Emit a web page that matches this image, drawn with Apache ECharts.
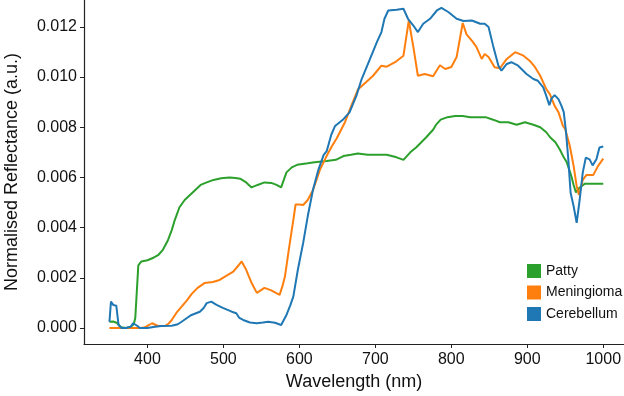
<!DOCTYPE html>
<html>
<head>
<meta charset="utf-8">
<script src="https://cdn.jsdelivr.net/npm/echarts@6/dist/echarts.min.js"></script>
<style>
html, body { margin: 0; padding: 0; background: #fff; }
#chart { width: 624px; height: 396px; }
</style>
</head>
<body>
<div id="chart"></div>
<script>
// tick labels
var xTicks = [400, 500, 600, 700, 800, 900, 1000];
var yTicks = [0, 0.002, 0.004, 0.006, 0.008, 0.010, 0.012];
var seriesNames = ['Patty', 'Meningioma', 'Cerebellum'];

// Patty
var pattyWl = [350, 355, 360, 365, 372, 378, 382, 384, 388, 392, 400, 408, 414, 420, 427, 432, 436, 442, 449, 456, 463, 470, 478, 487, 497, 508, 516, 522, 530, 537, 545, 554, 563, 570, 576, 583, 590, 597, 611, 620, 636, 648, 658, 668, 677, 690, 700, 715, 728, 737, 746, 754, 767, 776, 780, 786, 795, 805, 815, 825, 835, 845, 855, 864, 875, 886, 897, 908, 917, 925, 930, 937, 943, 948, 952, 958, 961, 964, 969, 976, 1000];
var pattyVal = [0.00025, 0.00026, 0.0002, 0.00003, 0.0, 0.00005, 0.00015, 0.0004, 0.0025, 0.00265, 0.0027, 0.0028, 0.0029, 0.0031, 0.0035, 0.0039, 0.0043, 0.0048, 0.0051, 0.0053, 0.0055, 0.0057, 0.0058, 0.0059, 0.00597, 0.006, 0.00598, 0.00595, 0.0058, 0.0056, 0.0057, 0.0058, 0.00578, 0.0057, 0.0056, 0.0062, 0.0064, 0.0065, 0.00656, 0.0066, 0.00665, 0.0067, 0.00685, 0.0069, 0.00695, 0.0069, 0.0069, 0.0069, 0.0068, 0.0067, 0.007, 0.0072, 0.0076, 0.0079, 0.0081, 0.0083, 0.0084, 0.00845, 0.00845, 0.0084, 0.0084, 0.0084, 0.0083, 0.0082, 0.0082, 0.0081, 0.0082, 0.0081, 0.008, 0.0078, 0.0076, 0.0074, 0.0071, 0.0068, 0.0066, 0.00605, 0.0057, 0.0054, 0.0056, 0.00575, 0.00575];

// Meningioma
var meningWl = [350, 360, 370, 380, 390, 396, 402, 406, 414, 423, 428, 432, 438, 445, 452, 458, 466, 475, 486, 494, 502, 513, 520, 524, 530, 537, 544, 549, 554, 563, 574, 578, 581, 586, 592, 595, 600, 605, 611, 618, 627, 635, 642, 649, 660, 669, 677, 688, 697, 708, 715, 726, 737, 744, 750, 756, 765, 776, 785, 792, 800, 807, 815, 820, 827, 833, 840, 844, 849, 857, 864, 873, 884, 895, 903, 910, 917, 925, 930, 936, 941, 947, 950, 956, 961, 965, 968, 973, 978, 987, 993, 1000];
var meningVal = [0, 0, 0, 0, 0, 0.00002, 0.00012, 0.00019, 0.00008, 0.00008, 0.00018, 0.00032, 0.0006, 0.00085, 0.0011, 0.00135, 0.0016, 0.00179, 0.00183, 0.0019, 0.00205, 0.00225, 0.0025, 0.00265, 0.00232, 0.0018, 0.0014, 0.0015, 0.0016, 0.0015, 0.00132, 0.0017, 0.00205, 0.0031, 0.0043, 0.00492, 0.00492, 0.0049, 0.0051, 0.0055, 0.0063, 0.0068, 0.0072, 0.00755, 0.0082, 0.0089, 0.0095, 0.0098, 0.01005, 0.01045, 0.01041, 0.01059, 0.01085, 0.01225, 0.0112, 0.01005, 0.01012, 0.01003, 0.01047, 0.01032, 0.0104, 0.0108, 0.01215, 0.0117, 0.01145, 0.0112, 0.01072, 0.01092, 0.0108, 0.01039, 0.01035, 0.01072, 0.01099, 0.01085, 0.01065, 0.0104, 0.01005, 0.00952, 0.0093, 0.00885, 0.0086, 0.00805, 0.00792, 0.00725, 0.00645, 0.00565, 0.0053, 0.0059, 0.0061, 0.0061, 0.00645, 0.00675];

// Cerebellum
var cerebWl = [350, 352, 355, 359, 362, 366, 372, 378, 381, 386, 390, 400, 410, 418, 432, 440, 445, 452, 458, 469, 474, 478, 484, 491, 500, 511, 517, 521, 526, 535, 544, 552, 559, 568, 576, 583, 588, 592, 598, 605, 611, 618, 625, 632, 636, 642, 647, 658, 666, 675, 682, 693, 702, 708, 712, 717, 728, 737, 743, 750, 756, 763, 772, 781, 787, 796, 807, 816, 827, 838, 844, 849, 855, 862, 866, 873, 879, 888, 899, 908, 914, 921, 925, 929, 932, 936, 941, 945, 948, 951, 954, 957, 961, 965, 969, 973, 977, 982, 986, 991, 995, 1000];
var cerebVal = [0.00025, 0.00105, 0.00092, 0.00089, 0.00012, 0, 0, 0.00005, 0.00019, 0.0001, 0, 0, 0.00005, 0.00008, 0.00009, 0.00015, 0.00025, 0.0004, 0.00052, 0.00065, 0.0008, 0.00099, 0.00105, 0.00092, 0.00079, 0.00065, 0.00059, 0.0004, 0.00032, 0.00022, 0.00019, 0.00022, 0.00025, 0.00021, 0.00012, 0.00052, 0.0009, 0.00125, 0.00232, 0.00339, 0.00445, 0.00552, 0.0063, 0.0069, 0.00705, 0.0077, 0.00805, 0.00832, 0.00859, 0.00925, 0.00992, 0.01072, 0.01139, 0.01179, 0.01232, 0.01265, 0.01268, 0.01272, 0.01232, 0.01205, 0.01179, 0.01212, 0.01232, 0.01265, 0.01275, 0.01259, 0.01232, 0.01223, 0.01225, 0.01212, 0.01212, 0.01199, 0.01125, 0.01045, 0.01025, 0.01052, 0.01059, 0.01045, 0.01012, 0.00992, 0.00985, 0.00959, 0.00925, 0.00888, 0.00915, 0.00928, 0.00912, 0.00885, 0.0086, 0.00779, 0.00672, 0.00539, 0.00485, 0.00419, 0.00512, 0.00619, 0.00679, 0.00672, 0.00648, 0.00672, 0.00719, 0.00723];

var colors = ['#2ca02c', '#ff7f0e', '#1f77b4'];
var font = 'Liberation Sans, Arial, sans-serif';

function pairs(xs, ys) {
	var out = [];
	for (var i = 0; i < xs.length; i++) {
		out.push([xs[i], ys[i]]);
	}
	return out;
}

var lineData = [pairs(pattyWl, pattyVal), pairs(meningWl, meningVal), pairs(cerebWl, cerebVal)];

var myChart = echarts.init(document.getElementById('chart'), null, {renderer: 'canvas'});
var option = {
	animation: false,
	color: colors,
	textStyle: {fontFamily: font},
	grid: {
		left: 84,
		right: 0,
		top: 0,
		bottom: 52,
		outerBoundsMode: 'none',
		containLabel: false
	},
	legend: {
		data: seriesNames,
		orient: 'vertical',
		left: 522,
		top: 259,
		icon: 'rect',
		itemWidth: 14,
		itemHeight: 14,
		itemGap: 7.5,
		textStyle: {fontSize: 14, color: '#111', fontFamily: font, lineHeight: 14}
	},
	xAxis: {
		type: 'value',
		min: 316.5,
		max: 1027.3,
		name: 'Wavelength (nm)',
		nameLocation: 'middle',
		nameGap: 29,
		nameTextStyle: {fontSize: 18, color: '#111', fontFamily: font},
		axisLine: {show: true, onZero: false, lineStyle: {color: '#222', width: 1.2}},
		axisTick: {show: true, length: 4, lineStyle: {color: '#222'}, customValues: xTicks},
		axisLabel: {
			fontSize: 16,
			color: '#111',
			margin: 8,
			customValues: xTicks,
			formatter: function(v) { return String(v); }
		},
		splitLine: {show: false}
	},
	yAxis: {
		type: 'value',
		min: -0.000637,
		max: 0.013068,
		name: 'Normalised Reflectance (a.u.)',
		nameLocation: 'middle',
		nameGap: 63,
		nameTextStyle: {fontSize: 18, color: '#111', fontFamily: font},
		axisLine: {show: true, onZero: false, lineStyle: {color: '#222', width: 1.2}},
		axisTick: {show: true, length: 4, lineStyle: {color: '#222'}, customValues: yTicks},
		axisLabel: {
			fontSize: 16,
			color: '#111',
			margin: 7,
			customValues: yTicks,
			formatter: function(v) { return v.toFixed(3); }
		},
		splitLine: {show: false}
	},
	series: []
};
for (var i = 0; i < seriesNames.length; i++) {
	option.series.push({
		name: seriesNames[i],
		type: 'line',
		data: lineData[i],
		showSymbol: false,
		symbol: 'none',
		clip: false,
		z: 2 + i,
		lineStyle: {width: 2, color: colors[i]},
		itemStyle: {color: colors[i]}
	});
}
myChart.setOption(option);
</script>
</body>
</html>
